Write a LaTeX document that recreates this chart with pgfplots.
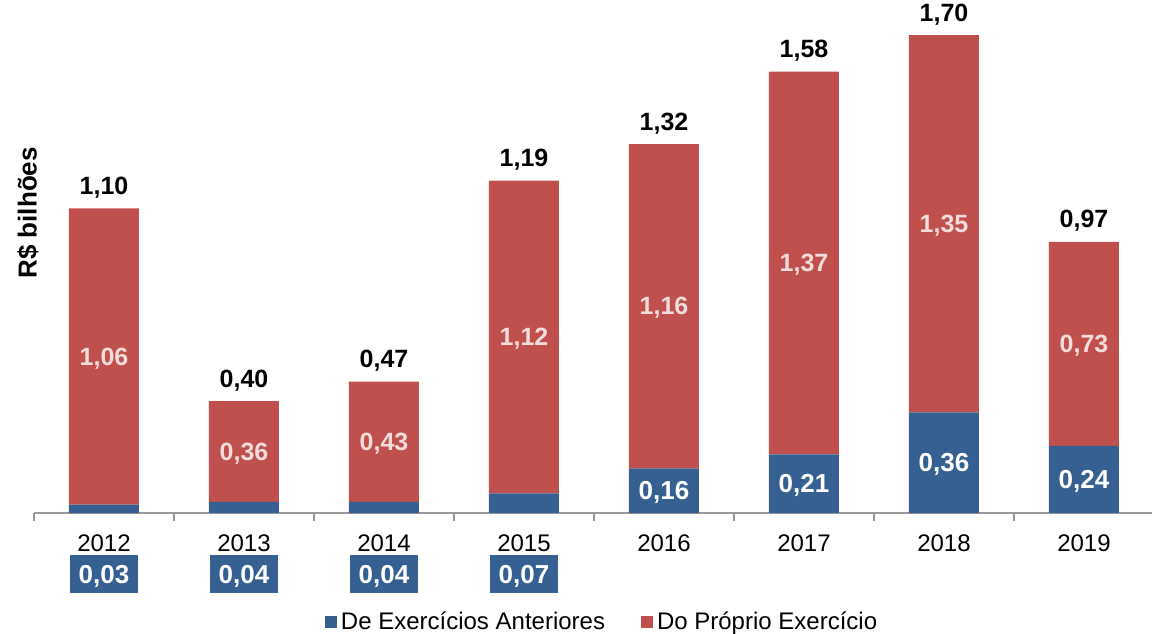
\documentclass[border=0pt]{standalone}
\usepackage{pgfplots}
\pgfplotsset{compat=1.18}
\usepackage{pgfplotstable}
\usepackage{fontspec}
\setmainfont{Liberation Sans}
\definecolor{bblue}{RGB}{55,96,146}
\definecolor{bred}{RGB}{192,80,77}
\definecolor{lpink}{RGB}{242,220,219}

\pgfplotstableread{
x y lab sh
0 0.03 0,03 -32.6
1 0.04 0,04 -33.3
2 0.04 0,04 -33.3
3 0.07 0,07 -35.4
4 0.16 0,16 0
5 0.21 0,21 0
6 0.36 0,36 0
7 0.24 0,24 0
}\blueT

\pgfplotstableread{
x y lab
0 1.06 1,06
1 0.36 0,36
2 0.43 0,43
3 1.12 1,12
4 1.16 1,16
5 1.37 1,37
6 1.35 1,35
7 0.73 0,73
}\redT

\pgfplotstableread{
x y lab
0 0.0001 1,10
1 0.0001 0,40
2 0.0001 0,47
3 0.0001 1,19
4 0.0001 1,32
5 0.0001 1,58
6 0.0001 1,70
7 0.0001 0,97
}\totT

\begin{document}
\begin{tikzpicture}
\begin{axis}[
  at={(0,0)}, anchor=south west,
  scale only axis, width=559pt, height=256.5pt,
  ybar stacked, bar width=35pt,
  xmin=-0.5, xmax=7.486, ymin=0, ymax=1.836,
  clip=false,
  axis x line=bottom, axis y line=left,
  x axis line style={-, draw=gray!80, line width=1pt},
  y axis line style={draw=none},
  ytick=\empty,
  xtick={0,...,7},
  xticklabels={2012,2013,2014,2015,2016,2017,2018,2019},
  major tick length=0pt,
  xticklabel style={font=\fontsize{12}{14}\selectfont, text=black, yshift=-7.5pt},
  extra x ticks={-0.5,0.5,1.5,2.5,3.5,4.5,5.5,6.5},
  extra x tick labels={},
  extra x tick style={major tick length=4pt, tick align=outside, tick style={draw=gray!80, line width=1pt}},
  every axis y label/.style={at={(axis description cs:-0.0054,0.585)}, rotate=90, anchor=center, font=\bfseries\fontsize{13}{15}\selectfont},
  ylabel={R\$ bilhões},
  legend style={at={(axis description cs:0.509,-0.2125)}, anchor=center, draw=none,
    font=\fontsize{12}{14}\selectfont, legend columns=2,
    /tikz/every even column/.append style={column sep=16pt}},
  sq/.style={legend image code/.code={\fill[##1,draw=none] (0pt,-3pt) rectangle (6pt,3pt);}},
]
\addplot[fill=bblue, draw=none, sq,
  point meta=explicit symbolic,
  visualization depends on={\thisrow{sh} \as \myshift},
  nodes near coords,
  every node near coord/.append style={anchor=center, yshift=\myshift pt, fill=bblue, text=white,
    font=\bfseries\fontsize{13}{15}\selectfont, minimum width=34pt, minimum height=19pt, inner sep=0pt, text depth=0pt}
] table[x=x, y=y, meta=lab] {\blueT};
\addlegendentry{De Exercícios Anteriores}
\addplot[fill=bred, draw=none, sq,
  point meta=explicit symbolic,
  nodes near coords,
  every node near coord/.append style={anchor=center, text=lpink,
    font=\bfseries\fontsize{12.5}{15}\selectfont, inner sep=0pt, text depth=0pt}
] table[x=x, y=y, meta=lab] {\redT};
\addlegendentry{Do Próprio Exercício}
\addplot[fill=none, draw=none, forget plot,
  point meta=explicit symbolic,
  nodes near coords,
  every node near coord/.append style={anchor=base, yshift=7pt, text=black,
    font=\bfseries\fontsize{12.5}{15}\selectfont, inner sep=0pt}
] table[x=x, y=y, meta=lab] {\totT};
\end{axis}
\pgfresetboundingbox
\path (-17pt,-60pt) rectangle (559pt,256.5pt);
\end{tikzpicture}
\end{document}
